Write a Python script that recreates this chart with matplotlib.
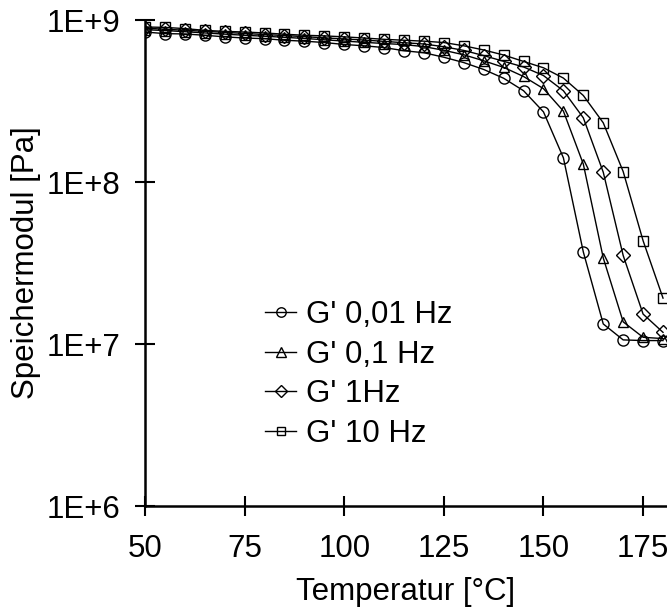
import matplotlib
matplotlib.use("Agg")
import matplotlib.pyplot as plt
from matplotlib.ticker import FixedLocator, NullLocator

plt.rcParams["font.family"] = ["Liberation Sans", "DejaVu Sans"]

temperature = [50, 55, 60, 65, 70, 75, 80, 85, 90, 95, 100, 105, 110, 115, 120,
               125, 130, 135, 140, 145, 150, 155, 160, 165, 170, 175, 180]

g_001hz = [8.43e8, 8.24e8, 8.20e8, 8.05e8, 7.87e8, 7.74e8, 7.67e8, 7.50e8, 7.40e8,
           7.26e8, 7.06e8, 6.93e8, 6.76e8, 6.46e8, 6.28e8, 5.89e8, 5.46e8, 4.95e8,
           4.37e8, 3.66e8, 2.71e8, 1.41e8, 3.70e7, 1.33e7, 1.06e7, 1.05e7, 1.05e7]

g_01hz = [8.71e8, 8.61e8, 8.47e8, 8.32e8, 8.18e8, 8.05e8, 7.94e8, 7.82e8, 7.69e8,
          7.55e8, 7.41e8, 7.28e8, 7.16e8, 7.05e8, 6.85e8, 6.50e8, 6.10e8, 5.60e8,
          5.10e8, 4.48e8, 3.77e8, 2.74e8, 1.29e8, 3.40e7, 1.37e7, 1.10e7, 1.08e7]

g_1hz = [8.91e8, 8.77e8, 8.65e8, 8.51e8, 8.39e8, 8.26e8, 8.13e8, 8.02e8, 7.89e8,
         7.76e8, 7.64e8, 7.52e8, 7.38e8, 7.24e8, 7.11e8, 6.84e8, 6.49e8, 6.03e8,
         5.56e8, 5.13e8, 4.54e8, 3.66e8, 2.49e8, 1.15e8, 3.52e7, 1.53e7, 1.18e7]

g_10hz = [9.06e8, 9.00e8, 8.85e8, 8.63e8, 8.51e8, 8.43e8, 8.32e8, 8.17e8, 8.05e8,
          7.98e8, 7.87e8, 7.74e8, 7.60e8, 7.50e8, 7.40e8, 7.26e8, 6.93e8, 6.53e8,
          6.08e8, 5.55e8, 5.07e8, 4.38e8, 3.42e8, 2.32e8, 1.16e8, 4.34e7, 1.92e7]

series = [
    ("G' 0,01 Hz", g_001hz, "o"),
    ("G' 0,1 Hz", g_01hz, "^"),
    ("G' 1Hz", g_1hz, "D"),
    ("G' 10 Hz", g_10hz, "s"),
]
marker_sizes = {"o": 8.0, "^": 7.8, "D": 7.2, "s": 7.2}

x_ticks = [50, 75, 100, 125, 150, 175]
y_ticks = [1e6, 1e7, 1e8, 1e9]
y_tick_labels = ["1E+6", "1E+7", "1E+8", "1E+9"]

FS = 22.5

fig = plt.figure(figsize=(6.67, 6.14), dpi=100)
ax = fig.add_axes([145 / 667, (614 - 506) / 614, 522 / 667, 486 / 614])

for label, values, marker in series:
    ax.plot(temperature, values, color="black", linewidth=1.0,
            marker=marker, markersize=marker_sizes[marker],
            markerfacecolor="none", markeredgecolor="black",
            markeredgewidth=1.0, label=label)

ax.set_yscale("log")
ax.set_xlim(50, 181)
ax.set_ylim(1e6, 1e9)

ax.xaxis.set_major_locator(FixedLocator(x_ticks))
ax.yaxis.set_major_locator(FixedLocator(y_ticks))
ax.yaxis.set_minor_locator(NullLocator())
ax.set_yticklabels(y_tick_labels)

for side in ("top", "right"):
    ax.spines[side].set_visible(False)
for side in ("left", "bottom"):
    ax.spines[side].set_linewidth(1.8)
    ax.spines[side].set_clip_on(False)

ax.tick_params(axis="both", which="major", direction="inout", length=15,
               width=1.5, labelsize=FS, color="black")
ax.tick_params(axis="x", pad=13)
ax.tick_params(axis="y", pad=10)

ax.set_xlabel("Temperatur [°C]", fontsize=FS, labelpad=9)
ax.set_ylabel("Speichermodul [Pa]", fontsize=FS, labelpad=4)

ax.legend(loc="upper left", bbox_to_anchor=(265 / 667, 1 - 300 / 614),
          bbox_transform=fig.transFigure, frameon=False, fontsize=FS,
          handlelength=1.0, handletextpad=0.3, labelspacing=0.31,
          markerscale=0.85, borderaxespad=0, borderpad=0)

fig.savefig("out.png", dpi=100)
